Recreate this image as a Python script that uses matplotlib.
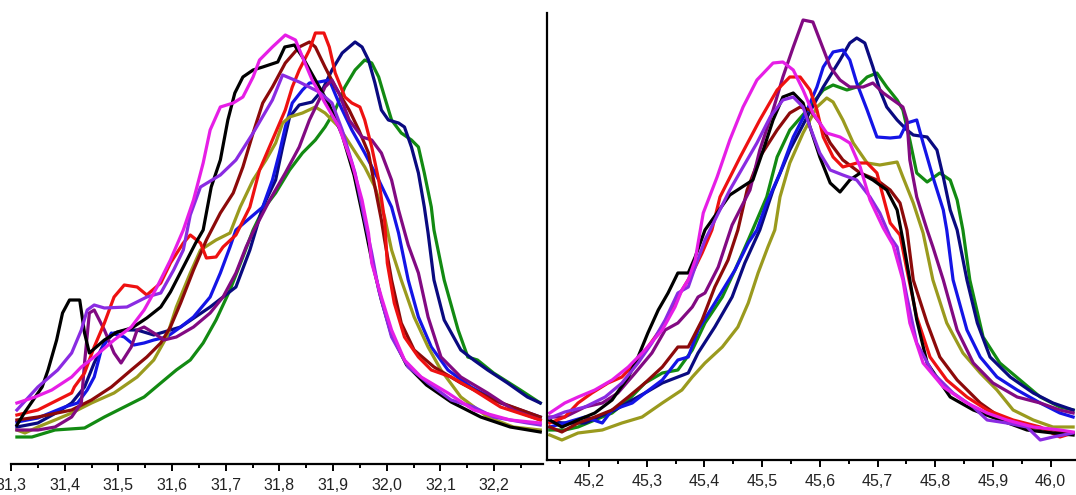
import matplotlib
matplotlib.use('Agg')
import matplotlib.pyplot as plt
from matplotlib.ticker import MultipleLocator

plt.rcParams['font.family'] = ['Liberation Sans', 'DejaVu Sans']

# ---- left peak (2theta ~ 31.8) ----
l_black_x = [31.311, 31.326, 31.358, 31.369, 31.385, 31.396, 31.409, 31.428, 31.437, 31.446, 31.474, 31.498, 31.525,
             31.553, 31.579, 31.597, 31.621, 31.644, 31.658, 31.673, 31.690, 31.704, 31.717, 31.732, 31.751, 31.769,
             31.797, 31.810, 31.828, 31.843, 31.867, 31.893, 31.917, 31.939, 31.957, 31.972, 31.990, 32.009, 32.037,
             32.074, 32.120, 32.175, 32.230, 32.286]
l_black_y = [39, 52, 77, 94, 124, 151, 164, 164, 131, 111, 124, 132, 136, 146, 157, 172, 197, 221, 234, 277, 304, 344,
             371, 387, 394, 397, 402, 417, 419, 407, 384, 359, 329, 289, 244, 204, 164, 129, 99, 79, 62, 47, 37, 32]

l_magenta_x = [31.311, 31.345, 31.376, 31.413, 31.431, 31.455, 31.492, 31.524, 31.548, 31.572, 31.597, 31.621, 31.640,
               31.658, 31.671, 31.690, 31.714, 31.732, 31.751, 31.763, 31.787, 31.811, 31.830, 31.843, 31.861, 31.885,
               31.911, 31.935, 31.954, 31.966, 31.972, 31.990, 32.009, 32.033, 32.064, 32.114, 32.162, 32.230, 32.286]
l_magenta_y = [61, 67, 74, 87, 97, 107, 124, 137, 154, 177, 204, 234, 264, 301, 334, 357, 361, 367, 387, 404, 417, 429,
               424, 407, 384, 361, 337, 301, 264, 231, 201, 167, 134, 104, 87, 71, 54, 44, 41]

l_violet_x = [31.311, 31.350, 31.387, 31.413, 31.431, 31.442, 31.455, 31.474, 31.516, 31.553, 31.579, 31.603, 31.621,
              31.634, 31.653, 31.690, 31.719, 31.751, 31.787, 31.806, 31.837, 31.874, 31.898, 31.917, 31.941, 31.959,
              31.972, 31.985, 32.009, 32.040, 32.077, 32.120, 32.162, 32.199, 32.262, 32.286]
l_violet_y = [54, 77, 94, 111, 134, 154, 159, 156, 157, 167, 171, 194, 214, 249, 277, 289, 304, 331, 364, 389, 382, 372,
              361, 334, 291, 244, 211, 174, 127, 97, 81, 64, 57, 47, 41, 39]

l_red_x = [31.311, 31.350, 31.387, 31.413, 31.418, 31.437, 31.455, 31.474, 31.492, 31.511, 31.535, 31.553, 31.579,
           31.597, 31.621, 31.634, 31.653, 31.664, 31.682, 31.695, 31.719, 31.745, 31.763, 31.787, 31.811, 31.824,
           31.837, 31.856, 31.867, 31.883, 31.893, 31.904, 31.922, 31.935, 31.950, 31.959, 31.972, 31.985, 31.996,
           32.001, 32.014, 32.033, 32.059, 32.083, 32.120, 32.162, 32.212, 32.286]
l_red_y = [49, 54, 64, 71, 77, 91, 117, 141, 167, 179, 177, 169, 181, 201, 221, 229, 221, 206, 207, 217, 229, 257, 294,
           324, 354, 377, 394, 414, 431, 431, 417, 391, 367, 361, 357, 344, 317, 284, 244, 201, 161, 127, 107, 94, 87,
           74, 57, 44]

l_maroon_x = [31.311, 31.350, 31.413, 31.450, 31.487, 31.524, 31.553, 31.579, 31.597, 31.616, 31.640, 31.664, 31.690,
              31.714, 31.732, 31.751, 31.769, 31.787, 31.811, 31.837, 31.856, 31.867, 31.885, 31.904, 31.930, 31.948,
              31.966, 31.978, 31.990, 31.996, 32.009, 32.027, 32.051, 32.088, 32.138, 32.199, 32.286]
l_maroon_y = [44, 47, 54, 64, 77, 94, 107, 121, 137, 161, 194, 224, 251, 271, 297, 331, 361, 377, 401, 417, 422, 417,
              397, 377, 354, 334, 311, 277, 244, 224, 184, 141, 114, 97, 81, 64, 47]

l_olive_x = [31.311, 31.326, 31.350, 31.382, 31.413, 31.450, 31.492, 31.535, 31.566, 31.590, 31.608, 31.634, 31.653,
             31.682, 31.708, 31.727, 31.751, 31.775, 31.793, 31.806, 31.819, 31.843, 31.867, 31.885, 31.911, 31.935,
             31.959, 31.978, 31.996, 32.009, 32.027, 32.051, 32.077, 32.101, 32.138, 32.188, 32.236, 32.286]
l_olive_y = [34, 31, 37, 44, 51, 61, 71, 87, 104, 127, 157, 191, 214, 224, 231, 257, 284, 304, 321, 341, 347, 351, 357,
             351, 337, 317, 297, 277, 247, 214, 184, 147, 117, 94, 67, 47, 37, 34]

l_blue_x = [31.311, 31.350, 31.400, 31.424, 31.442, 31.455, 31.468, 31.487, 31.511, 31.529, 31.548, 31.566, 31.590,
            31.616, 31.640, 31.671, 31.690, 31.708, 31.719, 31.745, 31.769, 31.787, 31.800, 31.811, 31.824, 31.843,
            31.856, 31.874, 31.893, 31.911, 31.935, 31.959, 31.985, 32.009, 32.022, 32.040, 32.059, 32.083, 32.114,
            32.157, 32.212, 32.286]
l_blue_y = [42, 46, 57, 61, 74, 87, 114, 131, 127, 119, 121, 124, 127, 137, 147, 167, 191, 217, 234, 246, 257, 284, 311,
            337, 361, 374, 381, 382, 384, 361, 334, 311, 284, 257, 231, 184, 147, 117, 94, 77, 61, 47]

l_navy_x = [31.311, 31.350, 31.387, 31.413, 31.437, 31.455, 31.474, 31.492, 31.516, 31.535, 31.566, 31.616, 31.671,
            31.719, 31.745, 31.769, 31.793, 31.806, 31.819, 31.837, 31.861, 31.880, 31.898, 31.917, 31.941, 31.954,
            31.966, 31.978, 31.990, 32.003, 32.022, 32.033, 32.046, 32.059, 32.070, 32.077, 32.088, 32.107, 32.138,
            32.162, 32.188, 32.225, 32.262, 32.286]
l_navy_y = [37, 41, 52, 61, 77, 101, 121, 131, 134, 134, 129, 137, 157, 177, 214, 257, 284, 317, 347, 359, 362, 374,
            394, 411, 422, 417, 404, 381, 354, 344, 341, 337, 317, 291, 257, 231, 184, 144, 114, 104, 94, 81, 67, 61]

l_green_x = [31.311, 31.339, 31.382, 31.437, 31.474, 31.511, 31.548, 31.579, 31.608, 31.634, 31.658, 31.682, 31.708,
             31.732, 31.751, 31.769, 31.793, 31.819, 31.843, 31.867, 31.885, 31.904, 31.922, 31.941, 31.959, 31.972,
             31.985, 31.996, 32.009, 32.027, 32.046, 32.059, 32.070, 32.083, 32.088, 32.107, 32.133, 32.151, 32.169,
             32.199, 32.249, 32.286]
l_green_y = [27, 27, 34, 36, 47, 57, 67, 81, 94, 104, 121, 144, 174, 207, 234, 254, 271, 294, 311, 324, 337, 354, 377,
             394, 404, 401, 387, 367, 344, 331, 324, 317, 291, 257, 234, 184, 134, 107, 104, 91, 74, 61]

l_purple_x = [31.311, 31.350, 31.382, 31.413, 31.431, 31.437, 31.446, 31.455, 31.474, 31.492, 31.505, 31.524, 31.535,
              31.548, 31.566, 31.585, 31.608, 31.640, 31.671, 31.695, 31.719, 31.738, 31.751, 31.782, 31.811, 31.837,
              31.856, 31.874, 31.885, 31.898, 31.911, 31.930, 31.954, 31.972, 31.990, 32.009, 32.022, 32.040, 32.059,
              32.077, 32.101, 32.138, 32.188, 32.236, 32.286]
l_purple_y = [34, 34, 37, 47, 61, 101, 151, 154, 134, 111, 101, 117, 134, 137, 131, 124, 127, 137, 151, 167, 191, 217,
              232, 264, 291, 317, 344, 364, 377, 384, 371, 344, 327, 324, 311, 284, 254, 219, 191, 147, 107, 87, 71, 54,
              44]

# ---- right peak (2theta ~ 45.6) ----
r_black_x = [45.132, 45.153, 45.181, 45.210, 45.240, 45.268, 45.285, 45.302, 45.320, 45.337, 45.354, 45.372, 45.384,
             45.401, 45.444, 45.484, 45.502, 45.519, 45.536, 45.554, 45.571, 45.583, 45.600, 45.618, 45.635, 45.652,
             45.670, 45.692, 45.716, 45.734, 45.744, 45.756, 45.768, 45.786, 45.826, 45.866, 45.912, 45.959, 46.004,
             46.039]
r_black_y = [40, 33, 40, 47, 60, 83, 103, 127, 150, 167, 187, 187, 203, 230, 265, 280, 310, 340, 363, 367, 357, 333, 303,
             277, 268, 280, 287, 280, 270, 250, 220, 180, 140, 97, 63, 50, 40, 30, 27, 25]

r_magenta_x = [45.132, 45.158, 45.181, 45.210, 45.240, 45.268, 45.297, 45.327, 45.349, 45.361, 45.372, 45.384, 45.398,
               45.422, 45.444, 45.467, 45.491, 45.519, 45.536, 45.554, 45.571, 45.588, 45.612, 45.635, 45.652, 45.670,
               45.687, 45.710, 45.727, 45.744, 45.756, 45.779, 45.814, 45.855, 45.890, 45.924, 45.970, 46.016, 46.039]
r_magenta_y = [47, 57, 63, 70, 80, 93, 110, 130, 153, 170, 180, 200, 247, 283, 320, 353, 380, 397, 398, 390, 370, 347,
               327, 323, 317, 293, 260, 232, 215, 180, 137, 97, 73, 57, 47, 40, 33, 30, 28]

r_violet_x = [45.132, 45.158, 45.193, 45.228, 45.257, 45.285, 45.309, 45.332, 45.354, 45.372, 45.384, 45.401, 45.444,
              45.491, 45.514, 45.536, 45.554, 45.571, 45.583, 45.600, 45.618, 45.640, 45.664, 45.687, 45.704, 45.722,
              45.734, 45.751, 45.768, 45.796, 45.831, 45.866, 45.890, 45.924, 45.959, 45.982, 46.004, 46.039]
r_violet_y = [42, 48, 53, 63, 77, 97, 117, 140, 167, 173, 193, 220, 270, 317, 343, 360, 363, 353, 333, 307, 290, 285,
              280, 263, 247, 223, 213, 163, 117, 87, 67, 53, 40, 37, 33, 20, 23, 27]

r_red_x = [45.132, 45.158, 45.181, 45.205, 45.233, 45.257, 45.280, 45.302, 45.327, 45.354, 45.379, 45.396, 45.413,
           45.427, 45.462, 45.496, 45.526, 45.548, 45.566, 45.583, 45.595, 45.606, 45.623, 45.640, 45.664, 45.682,
           45.699, 45.710, 45.722, 45.739, 45.751, 45.768, 45.791, 45.820, 45.855, 45.890, 45.935, 45.982, 46.016,
           46.039]
r_red_y = [37, 43, 57, 67, 77, 83, 97, 113, 133, 163, 187, 207, 230, 263, 303, 340, 370, 383, 383, 370, 350, 323, 303,
           293, 297, 297, 287, 263, 237, 225, 190, 143, 103, 80, 63, 50, 40, 33, 23, 27]

r_maroon_x = [45.132, 45.153, 45.181, 45.210, 45.240, 45.268, 45.297, 45.327, 45.354, 45.372, 45.396, 45.418, 45.441,
              45.458, 45.474, 45.496, 45.526, 45.548, 45.566, 45.583, 45.600, 45.618, 45.640, 45.670, 45.699, 45.722,
              45.739, 45.751, 45.762, 45.786, 45.808, 45.838, 45.878, 45.912, 45.959, 46.004, 46.039]
r_maroon_y = [33, 28, 37, 43, 50, 63, 77, 93, 113, 113, 140, 173, 200, 230, 270, 303, 330, 347, 353, 350, 337, 317, 300,
              287, 280, 270, 257, 230, 180, 137, 103, 80, 57, 43, 33, 30, 27]

r_olive_x = [45.132, 45.153, 45.181, 45.223, 45.257, 45.292, 45.327, 45.361, 45.379, 45.401, 45.431, 45.458, 45.476,
             45.493, 45.510, 45.522, 45.531, 45.548, 45.571, 45.595, 45.612, 45.623, 45.640, 45.658, 45.682, 45.704,
             45.734, 45.744, 45.762, 45.779, 45.796, 45.820, 45.848, 45.878, 45.907, 45.935, 45.970, 46.004, 46.039]
r_olive_y = [25, 20, 27, 30, 37, 43, 57, 70, 83, 97, 113, 133, 157, 187, 213, 230, 263, 297, 327, 353, 362, 358, 340,
             317, 297, 295, 298, 283, 257, 227, 180, 137, 107, 87, 70, 50, 40, 33, 33]

r_blue_x = [45.132, 45.158, 45.193, 45.223, 45.240, 45.275, 45.297, 45.327, 45.354, 45.372, 45.389, 45.418, 45.453,
            45.476, 45.491, 45.508, 45.531, 45.554, 45.578, 45.595, 45.606, 45.623, 45.640, 45.652, 45.664, 45.682,
            45.699, 45.722, 45.739, 45.751, 45.768, 45.779, 45.796, 45.814, 45.820, 45.831, 45.855, 45.878, 45.907,
            45.942, 45.982, 46.016, 46.039]
r_blue_y = [33, 37, 43, 37, 50, 57, 67, 80, 100, 103, 130, 157, 190, 217, 230, 257, 287, 323, 350, 373, 393, 408, 410,
            400, 377, 350, 323, 322, 323, 337, 340, 317, 283, 250, 230, 180, 130, 103, 83, 70, 57, 47, 43]

r_navy_x = [45.132, 45.158, 45.193, 45.216, 45.245, 45.275, 45.297, 45.327, 45.354, 45.372, 45.389, 45.418, 45.448,
            45.470, 45.496, 45.519, 45.548, 45.578, 45.606, 45.635, 45.652, 45.664, 45.678, 45.692, 45.704, 45.716,
            45.734, 45.751, 45.762, 45.786, 45.803, 45.814, 45.826, 45.838, 45.855, 45.873, 45.895, 45.930, 45.970,
            46.004, 46.039]
r_navy_y = [38, 37, 37, 43, 50, 60, 67, 77, 83, 87, 107, 133, 163, 197, 230, 270, 310, 343, 373, 400, 417, 422, 417,
            393, 370, 353, 340, 330, 325, 323, 310, 283, 250, 230, 180, 137, 103, 83, 67, 57, 50]

r_green_x = [45.132, 45.158, 45.181, 45.210, 45.240, 45.268, 45.297, 45.327, 45.354, 45.379, 45.401, 45.431, 45.453,
             45.476, 45.508, 45.526, 45.548, 45.578, 45.606, 45.623, 45.647, 45.664, 45.682, 45.699, 45.716, 45.734,
             45.744, 45.756, 45.768, 45.786, 45.808, 45.826, 45.838, 45.848, 45.860, 45.883, 45.912, 45.947, 45.982,
             46.016, 46.039]
r_green_y = [30, 30, 33, 40, 47, 60, 77, 87, 90, 110, 137, 163, 190, 220, 263, 303, 330, 350, 370, 375, 370, 373, 383,
             387, 373, 360, 350, 320, 287, 278, 287, 280, 260, 230, 180, 123, 97, 80, 63, 53, 50]

r_purple_x = [45.132, 45.158, 45.193, 45.223, 45.250, 45.280, 45.309, 45.332, 45.354, 45.379, 45.389, 45.401, 45.424,
              45.448, 45.479, 45.496, 45.519, 45.536, 45.554, 45.571, 45.588, 45.600, 45.618, 45.635, 45.652, 45.675,
              45.692, 45.710, 45.727, 45.744, 45.751, 45.756, 45.768, 45.786, 45.796, 45.814, 45.838, 45.866, 45.900,
              45.942, 45.982, 46.016, 46.039]
r_purple_y = [43, 43, 53, 57, 67, 87, 107, 130, 137, 153, 163, 167, 193, 235, 270, 310, 350, 383, 413, 440, 438, 420,
              393, 380, 373, 373, 377, 367, 360, 353, 340, 300, 263, 230, 213, 180, 130, 97, 77, 63, 57, 50, 47]

left_ticks = [31.3, 31.4, 31.5, 31.6, 31.7, 31.8, 31.9, 32.0, 32.1, 32.2]
left_labels = ['31,3', '31,4', '31,5', '31,6', '31,7', '31,8', '31,9', '32,0', '32,1', '32,2']
right_ticks = [45.2, 45.3, 45.4, 45.5, 45.6, 45.7, 45.8, 45.9, 46.0]
right_labels = ['45,2', '45,3', '45,4', '45,5', '45,6', '45,7', '45,8', '45,9', '46,0']

colors = {'green': '#128a12', 'navy': '#0a0a80', 'blue': '#1414e6', 'olive': '#9a9a1e', 'maroon': '#8c0a0a',
          'purple': '#820a82', 'red': '#ee1111', 'violet': '#8a2be2', 'magenta': '#e61ee6', 'black': '#000000'}
order = ['green', 'navy', 'blue', 'olive', 'maroon', 'purple', 'red', 'black', 'violet', 'magenta']

left_data = {'black': (l_black_x, l_black_y), 'magenta': (l_magenta_x, l_magenta_y),
             'violet': (l_violet_x, l_violet_y), 'red': (l_red_x, l_red_y), 'maroon': (l_maroon_x, l_maroon_y),
             'olive': (l_olive_x, l_olive_y), 'blue': (l_blue_x, l_blue_y), 'navy': (l_navy_x, l_navy_y),
             'green': (l_green_x, l_green_y), 'purple': (l_purple_x, l_purple_y)}
right_data = {'black': (r_black_x, r_black_y), 'magenta': (r_magenta_x, r_magenta_y),
              'violet': (r_violet_x, r_violet_y), 'red': (r_red_x, r_red_y), 'maroon': (r_maroon_x, r_maroon_y),
              'olive': (r_olive_x, r_olive_y), 'blue': (r_blue_x, r_blue_y), 'navy': (r_navy_x, r_navy_y),
              'green': (r_green_x, r_green_y), 'purple': (r_purple_x, r_purple_y)}

W, H = 1076, 495
fig = plt.figure(figsize=(W / 100, H / 100), dpi=100)
ax1 = fig.add_axes([11 / W, 31 / H, 532 / W, 451 / H])
ax2 = fig.add_axes([547 / W, 35 / H, 529 / W, 447 / H])

for ax, data, ticks, labels, xlim, ylim in [
        (ax1, left_data, left_ticks, left_labels, (31.3096, 32.2911), (0, 451)),
        (ax2, right_data, right_ticks, right_labels, (45.1272, 46.044), (0, 447))]:
    for name in order:
        x, y = data[name]
        ax.plot(x, y, color=colors[name], lw=2.3, solid_joinstyle='round')
    ax.set_xlim(*xlim)
    ax.set_ylim(*ylim)
    ax.set_xticks(ticks)
    ax.set_xticklabels(labels)
    ax.xaxis.set_minor_locator(MultipleLocator(0.05))
    ax.tick_params(axis='x', which='major', length=5, width=1.4, labelsize=11.5, pad=5, labelcolor='#222222')
    ax.tick_params(axis='x', which='minor', length=3, width=1.4)
    ax.set_yticks([])
    for s in ['top', 'right', 'left']:
        ax.spines[s].set_visible(False)
    ax.spines['bottom'].set_linewidth(1.6)

ax2.spines['left'].set_visible(True)
ax2.spines['left'].set_linewidth(1.6)

fig.savefig('out.png', dpi=100)
